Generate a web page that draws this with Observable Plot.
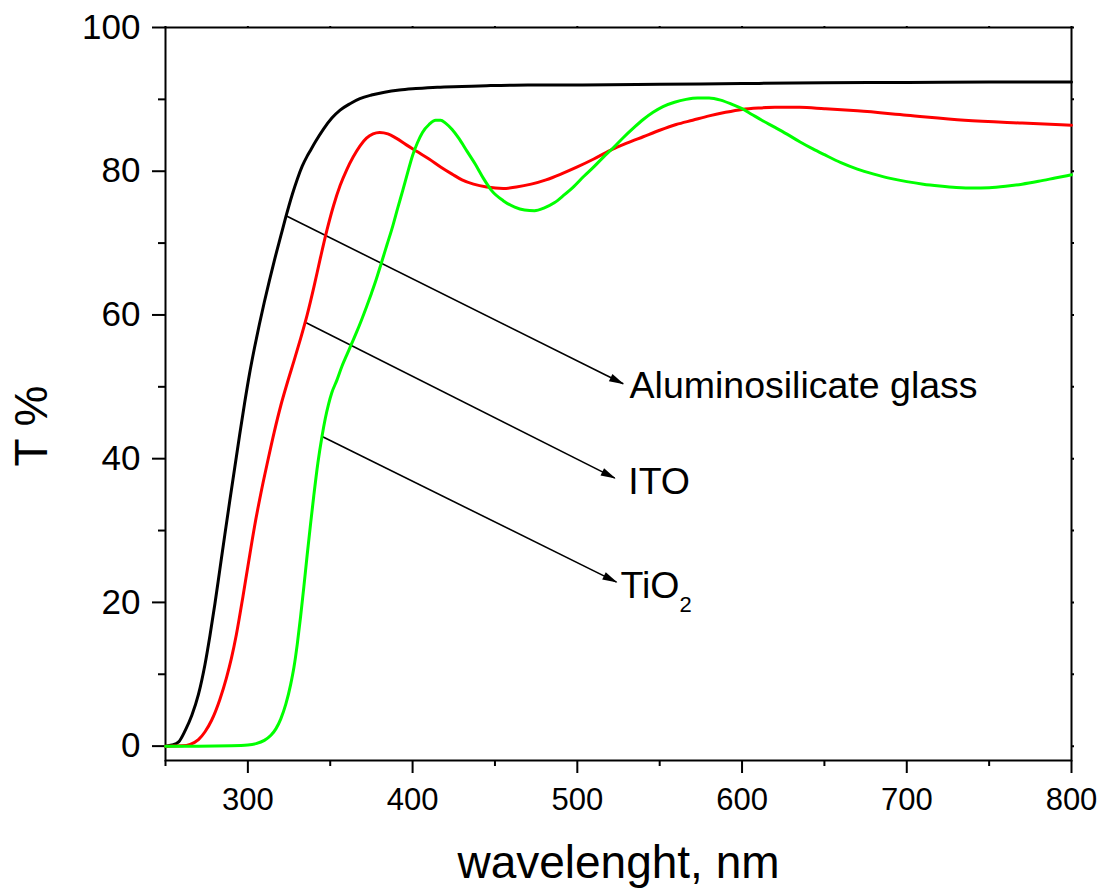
<!DOCTYPE html>
<html>
<head>
<meta charset="utf-8">
<script src="https://cdn.jsdelivr.net/npm/d3@7"></script>
<script src="https://cdn.jsdelivr.net/npm/@observablehq/plot@0.6"></script>
<style>
  html, body { margin: 0; padding: 0; background: #fff; }
  #chart svg { display: block; }
</style>
</head>
<body>
<div id="chart"></div>
<script>
// ---- Data ----
const glassWl = [250,254,258,262,266,270,274,277,280,283,286,289,292,295,298,301,304,307,310,313,316,320,323,327,330,333,336,338,341,346,351,356,362,368,375,383,392,402,415,430,445,470,500,550,600,650,700,750,800];
const glassT  = [0,0.15,0.6,2.2,4.3,7.2,11.4,15.4,19.8,24.6,29.4,34.1,38.7,43.3,47.7,51.8,55.4,58.7,61.8,64.7,67.5,71.0,73.6,76.8,78.9,80.7,82.1,82.9,84.1,85.9,87.4,88.5,89.4,90.1,90.6,91.0,91.3,91.5,91.7,91.8,91.9,92.0,92.0,92.1,92.2,92.3,92.35,92.4,92.4];

const itoWl = [250,260,265,270,274,278,283,287,290,293,297,300,304,308,312,316,320,324,328,332,336,340,344,348,352,356,360,364,368,372,376,380,385,390,396,403,410,417,424,430,437,445,455,463,472,481,490,500,510,520,530,540,550,560,570,580,590,600,610,620,635,650,670,700,735,770,800];
const itoT  = [0,0.05,0.25,0.9,2.0,3.6,6.5,9.5,12.2,15.5,20.8,25.0,30.5,35.3,39.6,43.7,47.4,50.6,53.6,56.7,60.0,63.8,67.9,71.8,75.2,78.0,80.2,82.0,83.5,84.6,85.2,85.4,85.2,84.6,83.7,82.7,81.7,80.6,79.6,78.8,78.2,77.8,77.6,77.8,78.2,78.8,79.6,80.6,81.7,82.9,83.9,84.8,85.7,86.5,87.1,87.7,88.2,88.6,88.8,88.9,88.9,88.7,88.4,87.8,87.1,86.7,86.4];

const tioWl = [250,270,290,300,305,310,314,317,320,323,326,328,330,332,334,336,338,340,342.5,345,347,349,351,354,357,360,363,366,369,372,375,378,381,384.5,388,391,394,397,400,403,406,410,414,417,420,424,428,433,438,443,448,455,462,468,474,480,486,492,498,504,510,516,522,528,534,540,546,552,559,566,573,580,587,594,600,606,612,620,627,635,643,650,660,670,680,690,700,710,720,730,740,750,760,770,780,790,800];
const tioT  = [0,0,0.05,0.15,0.35,0.8,1.5,2.4,3.8,5.8,8.6,11.0,14.2,18.0,22.2,26.6,30.8,34.8,39.4,43.1,45.6,47.6,49.2,50.9,52.8,54.4,56.0,57.6,59.3,61.1,63.0,65.0,67.2,69.8,72.4,74.9,77.3,79.8,82.2,84.0,85.4,86.5,87.1,87.1,86.7,85.8,84.6,82.8,81.0,79.0,77.3,75.9,75.0,74.6,74.5,74.9,75.6,76.7,77.9,79.3,80.6,82.0,83.3,84.7,86.0,87.2,88.2,89.0,89.6,90.0,90.2,90.2,89.9,89.3,88.7,87.9,87.1,86.1,85.2,84.1,83.1,82.3,81.2,80.3,79.6,79.0,78.55,78.2,77.95,77.75,77.65,77.7,77.9,78.2,78.6,79.05,79.5];

const xMajorTicks = [300,400,500,600,700,800];
const xMinorTicks = [250,350,450,550,650,750];
const yMajorTicks = [0,20,40,60,80,100];
const yMinorTicks = [10,30,50,70,90];

const annotationNames = ["Aluminosilicate glass", "ITO", "TiO2"];
const arrowStartWl = [322.85, 335.4, 345.1];
const arrowStartT  = [73.84, 58.91, 43.09];
const arrowEndWl   = [527.85, 522.75, 523.8];
const arrowEndT    = [50.42, 37.29, 22.82];
const labelWl      = [531.7, 530.9, 526.2];
const labelT       = [48.4, 35.1, 20.6];

const xTitle = "wavelenght, nm";
const yTitle = "T %";

// ---- Build tables ----
const toRows = (wl, t) => wl.map((w, i) => ({wl: w, t: t[i]}));
const glass = toRows(glassWl, glassT);
const ito = toRows(itoWl, itoT);
const tio = toRows(tioWl, tioT);

const W = 1104, H = 893;
const mL = 165, mR = 33, mT = 27, mB = 133;
const xDomain = [250, 800], yDomain = [-2, 100];
const xs = d3.scaleLinear(xDomain, [mL, W - mR]);
const ys = d3.scaleLinear(yDomain, [H - mB, mT]);

const annotations = annotationNames.map((name, i) => ({
  name,
  x1: arrowStartWl[i], y1: arrowStartT[i],
  x2: arrowEndWl[i], y2: arrowEndT[i],
  lx: labelWl[i], ly: labelT[i],
  angle: Math.atan2(ys(arrowEndT[i]) - ys(arrowStartT[i]), xs(arrowEndWl[i]) - xs(arrowStartWl[i])) * 180 / Math.PI
}));

const arrowHead = {
  draw(ctx) {
    ctx.moveTo(1, 0);
    ctx.lineTo(-14, -4);
    ctx.lineTo(-14, 4);
    ctx.closePath();
  }
};

const font = "'Liberation Sans', Arial, Helvetica, sans-serif";

const plot = Plot.plot({
  width: W,
  height: H,
  marginLeft: mL,
  marginRight: mR,
  marginTop: mT,
  marginBottom: mB,
  style: {fontFamily: font, color: "black", background: "white", overflow: "visible"},
  x: {domain: xDomain, label: null},
  y: {domain: yDomain, label: null},
  marks: [
    Plot.frame({stroke: "black", strokeWidth: 2}),
    Plot.axisY({ticks: yMajorTicks, tickSize: 13, tickPadding: 12, fontSize: 35, strokeWidth: 2, label: null, tickFormat: d => String(d)}),
    Plot.axisY({ticks: yMinorTicks, tickSize: 7, strokeWidth: 2, fill: "none", label: null}),
    Plot.axisY({anchor: "right", ticks: d3.range(0, 101, 10), tickSize: 2, strokeWidth: 2, fill: "none", label: null}),
    Plot.axisX({ticks: xMajorTicks, tickSize: 13, tickPadding: 14, fontSize: 31, strokeWidth: 2, label: null, tickFormat: d => String(d)}),
    Plot.axisX({ticks: xMinorTicks, tickSize: 6, strokeWidth: 2, fill: "none", label: null}),
    Plot.axisX({anchor: "top", ticks: d3.range(250, 801, 50), tickSize: 2, strokeWidth: 2, fill: "none", label: null}),
    Plot.link(annotations, {x1: "x1", y1: "y1", x2: "x2", y2: "y2", stroke: "black", strokeWidth: 1.6}),
    Plot.dot(annotations, {x: "x2", y: "y2", symbol: arrowHead, r: 5, fill: "black", stroke: "none", rotate: "angle"}),
    Plot.line(glass, {x: "wl", y: "t", stroke: "#000000", strokeWidth: 3, curve: "monotone-x"}),
    Plot.line(ito, {x: "wl", y: "t", stroke: "#ff0000", strokeWidth: 3, curve: "monotone-x"}),
    Plot.line(tio, {x: "wl", y: "t", stroke: "#00ff00", strokeWidth: 3, curve: "monotone-x"}),
    Plot.text(annotations, {x: "lx", y: "ly", text: "name", textAnchor: "start", lineAnchor: "bottom", fontSize: 37.5, fill: "black"}),
    Plot.text([yTitle], {frameAnchor: "left", textAnchor: "middle", lineAnchor: "middle", dx: -133, dy: 32, rotate: -90, fontSize: 46, fill: "black"}),
    Plot.text([xTitle], {frameAnchor: "bottom", textAnchor: "middle", lineAnchor: "bottom", dy: 117, fontSize: 46, fill: "black"})
  ]
});

// Subscript for TiO2
d3.select(plot).selectAll("text").each(function() {
  if (this.textContent === "TiO2" && this.children.length === 0) {
    const el = d3.select(this);
    el.text("TiO");
    el.append("tspan").attr("dy", 14).attr("font-size", 22).text("2");
  }
});

document.getElementById("chart").appendChild(plot);
</script>
</body>
</html>
